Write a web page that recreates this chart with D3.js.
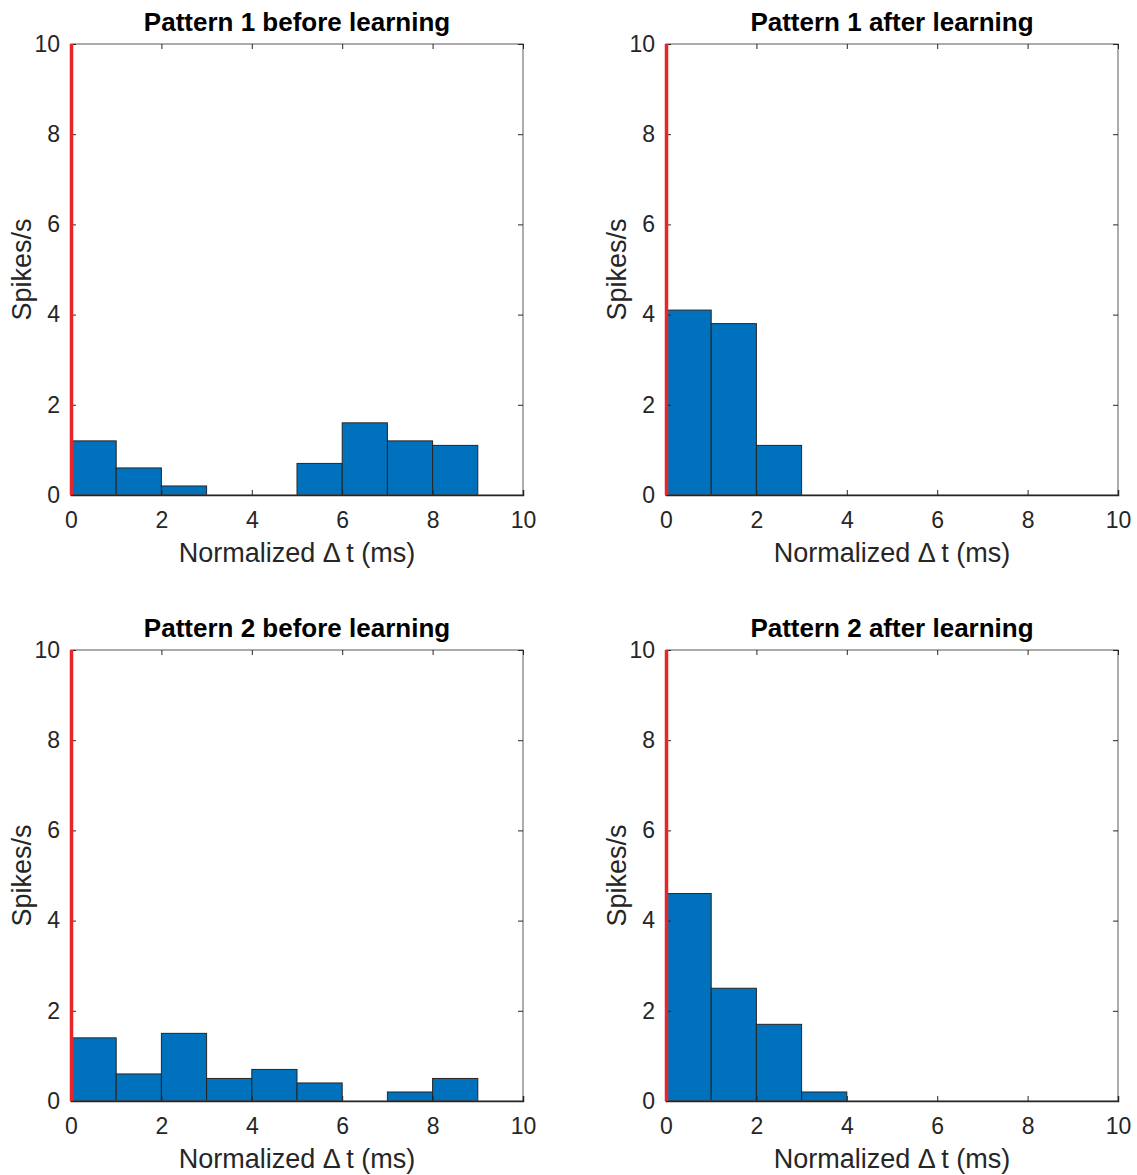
<!DOCTYPE html>
<html>
<head>
<meta charset="utf-8">
<script src="https://d3js.org/d3.v7.min.js"></script>
<style>
	body { margin: 0; background: #fff; }
	svg { display: block; font-family: "Liberation Sans", Arial, Helvetica, sans-serif; }
</style>
</head>
<body>
<div id="chart"></div>
<script>
// bin edges (ms) and spike rates per bin
const binEdges = [0, 1, 2, 3, 4, 5, 6, 7, 8, 9, 10];
const p1Before = [1.2, 0.6, 0.2, 0, 0, 0.7, 1.6, 1.2, 1.1, 0];
const p1After = [4.1, 3.8, 1.1, 0, 0, 0, 0, 0, 0, 0];
const p2Before = [1.4, 0.6, 1.5, 0.5, 0.7, 0.4, 0, 0.2, 0.5, 0];
const p2After = [4.6, 2.5, 1.7, 0.2, 0, 0, 0, 0, 0, 0];
const titles = [
	'Pattern 1 before learning',
	'Pattern 1 after learning',
	'Pattern 2 before learning',
	'Pattern 2 after learning'
];
const xTicks = [0, 2, 4, 6, 8, 10];
const yTicks = [0, 2, 4, 6, 8, 10];
const xLabel = 'Normalized \u0394\u2009t (ms)';
const yLabel = 'Spikes/s';

const panels = [
	{ title: titles[0], values: p1Before, left: 71, top: 44 },
	{ title: titles[1], values: p1After, left: 666, top: 44 },
	{ title: titles[2], values: p2Before, left: 71, top: 650 },
	{ title: titles[3], values: p2After, left: 666, top: 650 }
];

const W = 1137, H = 1175;
const pw = 452, ph = 451;
const axisColor = '#262626';
const tickLen = 5;
const font = '"Liberation Sans", Arial, sans-serif';

const svg = d3.select('#chart')
	.append('svg')
	.attr('width', W)
	.attr('height', H);

const x = d3.scaleLinear().domain([0, 10]).range([0, pw]);
const y = d3.scaleLinear().domain([0, 10]).range([ph, 0]);

panels.forEach(p => {
	const g = svg.append('g')
		.attr('transform', `translate(${p.left},${p.top})`);

	const bins = p.values.map((v, i) => ({ x0: binEdges[i], x1: binEdges[i + 1], v }));

	// bars
	g.selectAll('rect.bar')
		.data(bins)
		.enter()
		.append('rect')
		.attr('class', 'bar')
		.attr('x', d => x(d.x0))
		.attr('y', d => y(d.v))
		.attr('width', d => x(d.x1) - x(d.x0))
		.attr('height', d => y(0) - y(d.v))
		.attr('fill', '#0072BD')
		.attr('stroke', axisColor)
		.attr('stroke-width', 1);

	// box
	g.append('rect')
		.attr('width', pw)
		.attr('height', ph)
		.attr('fill', 'none')
		.attr('stroke', '#5a5a5a')
		.attr('stroke-width', 1);

	// bottom axis with inward ticks
	g.append('g')
		.attr('transform', `translate(0,${ph})`)
		.call(d3.axisBottom(x)
			.tickValues(xTicks)
			.tickSize(-tickLen)
			.tickPadding(17)
			.tickFormat(d3.format('d')))
		.call(a => a.select('.domain').attr('stroke', axisColor).attr('stroke-width', 1.5))
		.call(a => a.selectAll('.tick line').attr('stroke', axisColor))
		.call(a => a.selectAll('.tick text')
			.attr('fill', axisColor)
			.style('font-size', '23px')
			.style('font-family', font));

	// top mirrored ticks
	g.append('g')
		.call(d3.axisTop(x).tickValues(xTicks).tickSize(-tickLen).tickFormat(''))
		.call(a => a.select('.domain').remove())
		.call(a => a.selectAll('.tick line').attr('stroke', axisColor));

	// left axis
	g.append('g')
		.call(d3.axisLeft(y)
			.tickValues(yTicks)
			.tickSize(-tickLen)
			.tickPadding(11)
			.tickFormat(d3.format('d')))
		.call(a => a.select('.domain').remove())
		.call(a => a.selectAll('.tick line').attr('stroke', axisColor))
		.call(a => a.selectAll('.tick text')
			.attr('fill', axisColor)
			.style('font-size', '23px')
			.style('font-family', font));

	// right mirrored ticks
	g.append('g')
		.attr('transform', `translate(${pw},0)`)
		.call(d3.axisRight(y).tickValues(yTicks).tickSize(-tickLen).tickFormat(''))
		.call(a => a.select('.domain').remove())
		.call(a => a.selectAll('.tick line').attr('stroke', axisColor));

	// red marker at t = 0
	g.append('line')
		.attr('x1', x(0) + 0.5)
		.attr('x2', x(0) + 0.5)
		.attr('y1', y(10))
		.attr('y2', y(0))
		.attr('stroke', '#e8252b')
		.attr('stroke-width', 3.5);

	// title
	g.append('text')
		.attr('x', pw / 2)
		.attr('y', -13)
		.attr('text-anchor', 'middle')
		.attr('fill', '#000')
		.style('font-size', '26px')
		.style('font-weight', 'bold')
		.text(p.title);

	// x label
	g.append('text')
		.attr('x', pw / 2)
		.attr('y', ph + 67)
		.attr('text-anchor', 'middle')
		.attr('fill', axisColor)
		.style('font-size', '27px')
		.text(xLabel);

	// y label
	g.append('text')
		.attr('transform', `translate(-40,${ph / 2}) rotate(-90)`)
		.attr('text-anchor', 'middle')
		.attr('fill', axisColor)
		.style('font-size', '27px')
		.text(yLabel);
});
</script>
</body>
</html>
